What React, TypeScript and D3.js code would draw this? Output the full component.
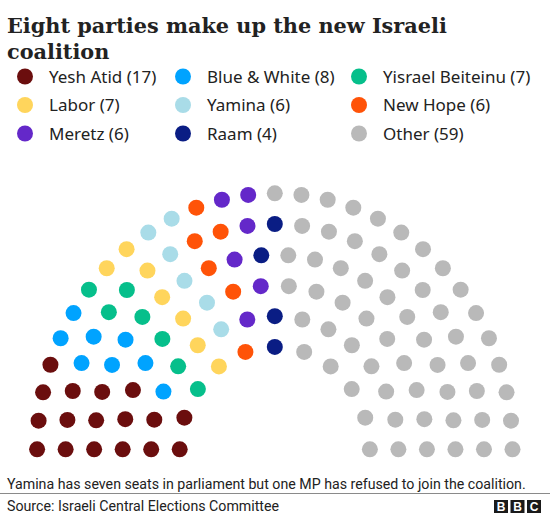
import * as d3 from "d3";

const PARTIES = [
  "Yesh Atid", "Blue & White", "Yisrael Beiteinu",
  "Labor", "Yamina", "New Hope",
  "Meretz", "Raam", "Other",
];
const SEATS = [17, 8, 7, 7, 6, 6, 6, 4, 59];
const COLORS = [
  "#6b0e0e", "#00a3ff", "#06bf8b",
  "#ffd55c", "#a9dce8", "#ff5308",
  "#6428c9", "#0a1d84", "#b9b9b9",
];
// seats in each ring of the chamber, inner to outer
const ROW_SEATS = [11, 15, 18, 22, 25, 29];

const TITLE = ["Eight parties make up the new Israeli", "coalition"];
const NOTE = "Yamina has seven seats in parliament but one MP has refused to join the coalition.";
const SOURCE = "Source: Israeli Central Elections Committee";

const W = 550;
const H = 515;
const SANS = "'Noto Sans', Roboto, sans-serif";
const FOOT = "Roboto, 'Noto Sans', sans-serif";

function layoutSeats() {
  const cx = 274.8, cy = 449.3, rx = 237.7, ry = 256;
  const x = d3.scaleLinear().domain([-1, 1]).range([cx - rx, cx + rx]);
  const y = d3.scaleLinear().domain([0, 1]).range([cy, cy - ry]);
  const ring = d3.scaleLinear().domain([0, ROW_SEATS.length - 1]).range([0.4, 1]);

  const seats: { a: number; row: number; x: number; y: number; color?: string }[] = [];
  ROW_SEATS.forEach((n, row) => {
    const r = ring(row);
    for (let k = 0; k < n; k++) {
      const a = (Math.PI * k) / (n - 1);
      seats.push({ a, row, x: x(-r * Math.cos(a)), y: y(r * Math.sin(a)) });
    }
  });
  seats.sort((p, q) => (Math.abs(p.a - q.a) > 1e-9 ? p.a - q.a : p.row - q.row));

  let i = 0;
  SEATS.forEach((count, pi) => {
    for (let j = 0; j < count; j++) seats[i++].color = COLORS[pi];
  });
  return seats;
}

export default function App() {
  const seats = layoutSeats();
  const colX = [25, 183, 359];
  const rowY = [76.5, 105, 133.5];
  const logoX = [494, 510.5, 527];

  return (
    <svg
      width={W}
      height={H}
      style={{ position: "absolute", left: 0, top: 0, display: "block", background: "#fff" }}
    >
      {TITLE.map((t, i) => (
        <text
          key={t}
          x={7}
          y={33.3 + i * 25.5}
          fontFamily="'DejaVu Serif', 'Liberation Serif', serif"
          fontWeight={700}
          fontSize={20.8}
          fill="#222"
        >
          {t}
        </text>
      ))}

      {PARTIES.map((p, i) => {
        const cxp = colX[i % 3];
        const cyp = rowY[Math.floor(i / 3)];
        return (
          <g key={p}>
            <circle cx={cxp} cy={cyp} r={8} fill={COLORS[i]} />
            <text x={cxp + 24} y={cyp + 6} fontFamily={SANS} fontSize={17} fill="#222">
              {`${p} (${SEATS[i]})`}
            </text>
          </g>
        );
      })}

      {seats.map((s, i) => (
        <circle key={i} cx={s.x} cy={s.y} r={8} fill={s.color} />
      ))}

      <text x={7} y={489} fontFamily={FOOT} fontSize={14.2} fill="#222">
        {NOTE}
      </text>
      <line x1={0} x2={W} y1={493.5} y2={493.5} stroke="#8a8a8a" strokeWidth={1} />
      <text x={7} y={510.5} fontFamily={FOOT} fontSize={14.2} fill="#222">
        {SOURCE}
      </text>

      {["B", "B", "C"].map((l, i) => (
        <g key={i}>
          <rect x={logoX[i]} y={500} width={14} height={13} fill="#1a1a1a" />
          <text
            x={logoX[i] + 7}
            y={511}
            textAnchor="middle"
            fontFamily="'Liberation Sans', Arial, sans-serif"
            fontWeight={700}
            fontSize={12}
            fill="#fff"
          >
            {l}
          </text>
        </g>
      ))}
    </svg>
  );
}
